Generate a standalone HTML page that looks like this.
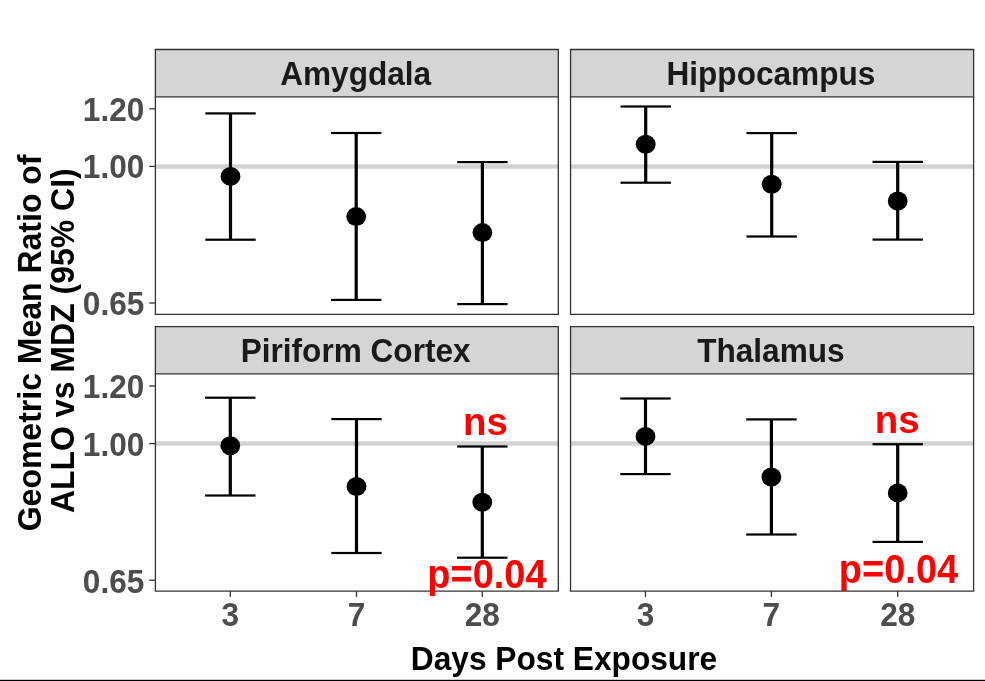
<!DOCTYPE html><html><head><meta charset="utf-8"><style>html,body{margin:0;padding:0;background:#fff;overflow:hidden}svg{display:block;will-change:transform}text{font-family:"Liberation Sans",sans-serif;font-weight:bold}</style></head><body>
<svg width="985" height="681" viewBox="0 0 985 681">
<rect x="0" y="0" width="985" height="681" fill="#fff"/>
<rect x="155.4" y="49.5" width="402.90" height="47.30" fill="#d5d5d5"/>
<rect x="155.4" y="164.30" width="402.90" height="4.4" fill="#d2d2d2"/>
<line x1="154.75" y1="49.5" x2="558.9499999999999" y2="49.5" stroke="#333333" stroke-width="1.3"/>
<line x1="154.75" y1="96.8" x2="558.9499999999999" y2="96.8" stroke="#333333" stroke-width="1.3"/>
<line x1="154.75" y1="314.3" x2="558.9499999999999" y2="314.3" stroke="#333333" stroke-width="1.3"/>
<line x1="155.4" y1="49.5" x2="155.4" y2="314.3" stroke="#333333" stroke-width="1.3"/>
<line x1="558.3" y1="49.5" x2="558.3" y2="314.3" stroke="#333333" stroke-width="1.3"/>
<text transform="translate(355.65,85.3) scale(1,1.03)" text-anchor="middle" font-size="31.6" fill="#1a1a1a">Amygdala</text>
<rect x="228.90" y="113.4" width="3.2" height="126.30" fill="#000"/>
<rect x="205.30" y="112.30" width="50.4" height="2.2" fill="#000"/>
<rect x="205.30" y="238.60" width="50.4" height="2.2" fill="#000"/>
<ellipse cx="230.5" cy="176.4" rx="9.9" ry="9.5" fill="#000"/>
<rect x="354.60" y="133.0" width="3.2" height="166.90" fill="#000"/>
<rect x="331.00" y="131.90" width="50.4" height="2.2" fill="#000"/>
<rect x="331.00" y="298.80" width="50.4" height="2.2" fill="#000"/>
<ellipse cx="356.2" cy="216.6" rx="9.9" ry="9.5" fill="#000"/>
<rect x="480.80" y="162.1" width="3.2" height="142.00" fill="#000"/>
<rect x="457.20" y="161.00" width="50.4" height="2.2" fill="#000"/>
<rect x="457.20" y="303.00" width="50.4" height="2.2" fill="#000"/>
<ellipse cx="482.4" cy="232.6" rx="9.9" ry="9.5" fill="#000"/>
<rect x="570.55" y="49.5" width="403.05" height="47.30" fill="#d5d5d5"/>
<rect x="570.55" y="164.30" width="403.05" height="4.4" fill="#d2d2d2"/>
<line x1="569.9" y1="49.5" x2="974.25" y2="49.5" stroke="#333333" stroke-width="1.3"/>
<line x1="569.9" y1="96.8" x2="974.25" y2="96.8" stroke="#333333" stroke-width="1.3"/>
<line x1="569.9" y1="314.3" x2="974.25" y2="314.3" stroke="#333333" stroke-width="1.3"/>
<line x1="570.55" y1="49.5" x2="570.55" y2="314.3" stroke="#333333" stroke-width="1.3"/>
<line x1="973.6" y1="49.5" x2="973.6" y2="314.3" stroke="#333333" stroke-width="1.3"/>
<text transform="translate(770.88,85.3) scale(1,1.03)" text-anchor="middle" font-size="31.6" fill="#1a1a1a">Hippocampus</text>
<rect x="644.10" y="106.5" width="3.2" height="76.20" fill="#000"/>
<rect x="620.50" y="105.40" width="50.4" height="2.2" fill="#000"/>
<rect x="620.50" y="181.60" width="50.4" height="2.2" fill="#000"/>
<ellipse cx="645.7" cy="144.2" rx="9.9" ry="9.5" fill="#000"/>
<rect x="770.10" y="133.1" width="3.2" height="103.40" fill="#000"/>
<rect x="746.50" y="132.00" width="50.4" height="2.2" fill="#000"/>
<rect x="746.50" y="235.40" width="50.4" height="2.2" fill="#000"/>
<ellipse cx="771.7" cy="184.2" rx="9.9" ry="9.5" fill="#000"/>
<rect x="896.10" y="161.9" width="3.2" height="77.70" fill="#000"/>
<rect x="872.50" y="160.80" width="50.4" height="2.2" fill="#000"/>
<rect x="872.50" y="238.50" width="50.4" height="2.2" fill="#000"/>
<ellipse cx="897.7" cy="201.0" rx="9.9" ry="9.5" fill="#000"/>
<rect x="155.4" y="326.6" width="402.90" height="47.20" fill="#d5d5d5"/>
<rect x="155.4" y="441.30" width="402.90" height="4.4" fill="#d2d2d2"/>
<line x1="154.75" y1="326.6" x2="558.9499999999999" y2="326.6" stroke="#333333" stroke-width="1.3"/>
<line x1="154.75" y1="373.8" x2="558.9499999999999" y2="373.8" stroke="#333333" stroke-width="1.3"/>
<line x1="154.75" y1="591.1" x2="558.9499999999999" y2="591.1" stroke="#333333" stroke-width="1.3"/>
<line x1="155.4" y1="326.6" x2="155.4" y2="591.1" stroke="#333333" stroke-width="1.3"/>
<line x1="558.3" y1="326.6" x2="558.3" y2="591.1" stroke="#333333" stroke-width="1.3"/>
<text transform="translate(355.65,362.40000000000003) scale(1,1.03)" text-anchor="middle" font-size="31.6" fill="#1a1a1a">Piriform Cortex</text>
<rect x="228.70" y="397.7" width="3.2" height="97.80" fill="#000"/>
<rect x="205.10" y="396.60" width="50.4" height="2.2" fill="#000"/>
<rect x="205.10" y="494.40" width="50.4" height="2.2" fill="#000"/>
<ellipse cx="230.3" cy="445.8" rx="9.9" ry="9.5" fill="#000"/>
<rect x="354.90" y="419.1" width="3.2" height="133.90" fill="#000"/>
<rect x="331.30" y="418.00" width="50.4" height="2.2" fill="#000"/>
<rect x="331.30" y="551.90" width="50.4" height="2.2" fill="#000"/>
<ellipse cx="356.5" cy="486.5" rx="9.9" ry="9.5" fill="#000"/>
<rect x="480.70" y="446.5" width="3.2" height="111.20" fill="#000"/>
<rect x="457.10" y="445.40" width="50.4" height="2.2" fill="#000"/>
<rect x="457.10" y="556.60" width="50.4" height="2.2" fill="#000"/>
<ellipse cx="482.3" cy="502.3" rx="9.9" ry="9.5" fill="#000"/>
<rect x="229.65" y="591.1" width="1.3" height="5.8" fill="#333333"/>
<rect x="355.85" y="591.1" width="1.3" height="5.8" fill="#333333"/>
<rect x="481.65" y="591.1" width="1.3" height="5.8" fill="#333333"/>
<rect x="570.55" y="326.6" width="403.05" height="47.20" fill="#d5d5d5"/>
<rect x="570.55" y="441.30" width="403.05" height="4.4" fill="#d2d2d2"/>
<line x1="569.9" y1="326.6" x2="974.25" y2="326.6" stroke="#333333" stroke-width="1.3"/>
<line x1="569.9" y1="373.8" x2="974.25" y2="373.8" stroke="#333333" stroke-width="1.3"/>
<line x1="569.9" y1="591.1" x2="974.25" y2="591.1" stroke="#333333" stroke-width="1.3"/>
<line x1="570.55" y1="326.6" x2="570.55" y2="591.1" stroke="#333333" stroke-width="1.3"/>
<line x1="973.6" y1="326.6" x2="973.6" y2="591.1" stroke="#333333" stroke-width="1.3"/>
<text transform="translate(770.88,362.40000000000003) scale(1,1.03)" text-anchor="middle" font-size="31.6" fill="#1a1a1a">Thalamus</text>
<rect x="643.90" y="398.5" width="3.2" height="75.60" fill="#000"/>
<rect x="620.30" y="397.40" width="50.4" height="2.2" fill="#000"/>
<rect x="620.30" y="473.00" width="50.4" height="2.2" fill="#000"/>
<ellipse cx="645.5" cy="436.4" rx="9.9" ry="9.5" fill="#000"/>
<rect x="769.80" y="419.4" width="3.2" height="115.10" fill="#000"/>
<rect x="746.20" y="418.30" width="50.4" height="2.2" fill="#000"/>
<rect x="746.20" y="533.40" width="50.4" height="2.2" fill="#000"/>
<ellipse cx="771.4" cy="477.0" rx="9.9" ry="9.5" fill="#000"/>
<rect x="896.10" y="444.2" width="3.2" height="97.70" fill="#000"/>
<rect x="872.50" y="443.10" width="50.4" height="2.2" fill="#000"/>
<rect x="872.50" y="540.80" width="50.4" height="2.2" fill="#000"/>
<ellipse cx="897.7" cy="492.9" rx="9.9" ry="9.5" fill="#000"/>
<rect x="644.85" y="591.1" width="1.3" height="5.8" fill="#333333"/>
<rect x="770.75" y="591.1" width="1.3" height="5.8" fill="#333333"/>
<rect x="897.05" y="591.1" width="1.3" height="5.8" fill="#333333"/>
<rect x="149.2" y="108.15" width="6" height="1.3" fill="#333333"/>
<text transform="translate(144.3,120.50) scale(1,1.03)" text-anchor="end" font-size="31.6" fill="#4d4d4d">1.20</text>
<rect x="149.2" y="165.75" width="6" height="1.3" fill="#333333"/>
<text transform="translate(144.3,178.10) scale(1,1.03)" text-anchor="end" font-size="31.6" fill="#4d4d4d">1.00</text>
<rect x="149.2" y="302.35" width="6" height="1.3" fill="#333333"/>
<text transform="translate(144.3,314.70) scale(1,1.03)" text-anchor="end" font-size="31.6" fill="#4d4d4d">0.65</text>
<rect x="149.2" y="385.35" width="6" height="1.3" fill="#333333"/>
<text transform="translate(144.3,398.30) scale(1,1.03)" text-anchor="end" font-size="31.6" fill="#4d4d4d">1.20</text>
<rect x="149.2" y="442.95" width="6" height="1.3" fill="#333333"/>
<text transform="translate(144.3,455.90) scale(1,1.03)" text-anchor="end" font-size="31.6" fill="#4d4d4d">1.00</text>
<rect x="149.2" y="579.55" width="6" height="1.3" fill="#333333"/>
<text transform="translate(144.3,592.50) scale(1,1.03)" text-anchor="end" font-size="31.6" fill="#4d4d4d">0.65</text>
<text transform="translate(230.3,625.7) scale(1,1.03)" text-anchor="middle" font-size="31.6" fill="#4d4d4d">3</text>
<text transform="translate(356.5,625.7) scale(1,1.03)" text-anchor="middle" font-size="31.6" fill="#4d4d4d">7</text>
<text transform="translate(482.3,625.7) scale(1,1.03)" text-anchor="middle" font-size="31.6" fill="#4d4d4d">28</text>
<text transform="translate(645.5,625.7) scale(1,1.03)" text-anchor="middle" font-size="31.6" fill="#4d4d4d">3</text>
<text transform="translate(771.4,625.7) scale(1,1.03)" text-anchor="middle" font-size="31.6" fill="#4d4d4d">7</text>
<text transform="translate(897.7,625.7) scale(1,1.03)" text-anchor="middle" font-size="31.6" fill="#4d4d4d">28</text>
<text transform="translate(564,669.5) scale(1,1.03)" text-anchor="middle" font-size="31.7" fill="#000">Days Post Exposure</text>
<text transform="translate(40.5,342.9) rotate(-90) scale(1,1.03)" text-anchor="middle" font-size="32.0" fill="#000">Geometric Mean Ratio of</text>
<text transform="translate(73.9,340.7) rotate(-90) scale(1,1.03)" text-anchor="middle" font-size="32.0" fill="#000">ALLO vs MDZ (95% CI)</text>
<text transform="translate(485.4,435.2) scale(1,1.0)" text-anchor="middle" font-size="38.5" fill="#ff0000">ns</text>
<text transform="translate(897.3,433.3) scale(1,1.0)" text-anchor="middle" font-size="38.5" fill="#ff0000">ns</text>
<text transform="translate(486.9,588.1) scale(1,1.05)" text-anchor="middle" font-size="38.0" fill="#ff0000">p=0.04</text>
<text transform="translate(898.5,583.2) scale(1,1.05)" text-anchor="middle" font-size="38.0" fill="#ff0000">p=0.04</text>
<rect x="0" y="679.8" width="985" height="1.2" fill="#000"/>
</svg></body></html>
